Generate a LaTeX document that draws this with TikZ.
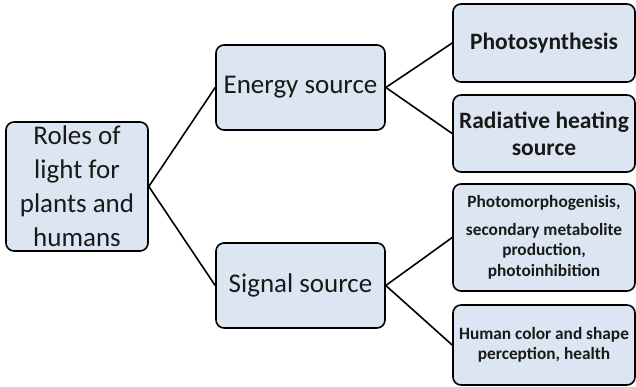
\documentclass[tikz,border=0pt]{standalone}
\usepackage{fontspec}
\setmainfont{Carlito}
\definecolor{boxfill}{HTML}{DCE6F2}
\begin{document}
\begin{tikzpicture}[x=1pt, y=-1pt, line width=1.6pt]
\useasboundingbox (0,0) rectangle (636,387);
\tikzstyle{every node} = [draw=black, fill=boxfill, rounded corners=8pt, align=center, inner sep=1pt, text=black!90]
\tikzstyle{big} = [font=\fontsize{27}{34}\selectfont]
\tikzstyle{leaf} = [minimum width=182pt, font=\bfseries\fontsize{23.5}{27}\selectfont]
\tikzstyle{small} = [minimum width=182pt, font=\bfseries\fontsize{17.3}{20.5}\selectfont]
\node[big, minimum width=142pt, minimum height=129pt] (roles) at (77,186.5) {Roles of\\light for\\plants and\\humans};
\node[big, minimum width=169pt, minimum height=85pt] (energy) at (300.5,87.5) {Energy source};
\node[big, minimum width=169pt, minimum height=85pt] (signal) at (300.5,285.5) {Signal source};
\node[leaf, minimum height=78pt] (photo) at (544,43) {Photosynthesis};
\node[leaf, minimum height=77pt] (heat) at (544,133.5) {Radiative heating\\source};
\node[small, minimum height=107pt] (morph) at (544,237.5) {Photomorphogenisis,\\[7pt]secondary metabolite\\production,\\photoinhibition};
\node[small, minimum height=80pt] (human) at (544,345) {Human color and shape\\perception, health};
\tikzstyle{every node} = []
\draw (roles.east) -- (energy.west);
\draw (roles.east) -- (signal.west);
\draw (energy.east) -- (photo.west);
\draw (energy.east) -- (heat.west);
\draw (signal.east) -- (morph.west);
\draw (signal.east) -- (human.west);
\end{tikzpicture}
\end{document}
